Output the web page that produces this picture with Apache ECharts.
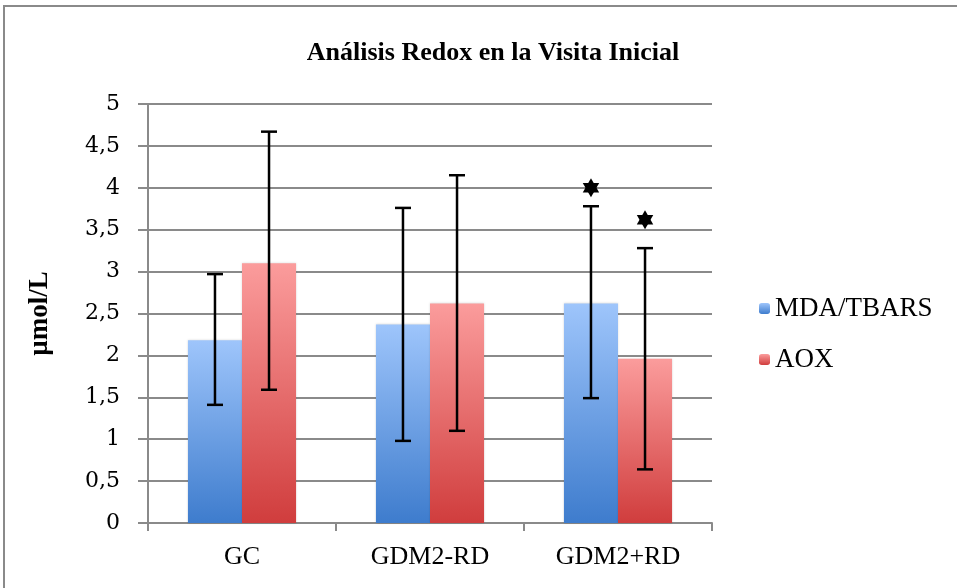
<!DOCTYPE html>
<html>
<head>
<meta charset="utf-8">
<script src="https://cdn.jsdelivr.net/npm/echarts@6/dist/echarts.min.js"></script>
<style>
    html, body { margin: 0; padding: 0; background: #fff; overflow: hidden; }
    #chart {
        position: absolute; left: 3px; top: 5px;
        width: 954px; height: 581px;
        border-top: 2px solid #8a8a8a;
        border-left: 2px solid #8a8a8a;
    }
</style>
</head>
<body>
<div id="chart"></div>
<script>
    // datos
    var categories = ['GC', 'GDM2-RD', 'GDM2+RD'];
    var seriesNames = ['MDA/TBARS', 'AOX'];
    var mdaMean = [2.18, 2.37, 2.62];
    var mdaLow = [1.41, 0.98, 1.49];
    var mdaHigh = [2.97, 3.76, 3.78];
    var aoxMean = [3.10, 2.62, 1.96];
    var aoxLow = [1.59, 1.10, 0.64];
    var aoxHigh = [4.67, 4.15, 3.28];
    // estrellas de significancia
    var mdaStar = [null, null, 4.0];
    var aoxStar = [null, null, 3.62];
    var yTicks = ['0', '0,5', '1', '1,5', '2', '2,5', '3', '3,5', '4', '4,5', '5'];

    var gapPct = 0.425;
    var serif = '"Liberation Serif", "DejaVu Serif", serif';
    var tickFont = '"DejaVu Serif", "Liberation Serif", serif';

    var chart = echarts.init(document.getElementById('chart'));

    function grad(top, bottom) {
        return new echarts.graphic.LinearGradient(0, 0, 0, 1, [
            {offset: 0, color: top},
            {offset: 1, color: bottom}
        ]);
    }

    function hexagram(cx, cy, r) {
        var a = [], b = [];
        for (var i = 0; i < 3; i++) {
            var t1 = -Math.PI / 2 + i * 2 * Math.PI / 3;
            var t2 = Math.PI / 2 + i * 2 * Math.PI / 3;
            a.push([cx + r * Math.cos(t1), cy + r * Math.sin(t1)]);
            b.push([cx + r * Math.cos(t2), cy + r * Math.sin(t2)]);
        }
        return [a, b];
    }

    // barras de error + estrellas, desplazadas según la posición de cada barra
    function errorSeries(low, high, star, side) {
        var rows = low.map(function (v, i) {
            return [i, v, high[i], star[i] == null ? '-' : star[i]];
        });
        return {
            type: 'custom',
            z: 10,
            silent: true,
            data: rows,
            renderItem: function (params, api) {
                var band = api.size([1, 0])[0];
                var barW = band * (1 - gapPct) / 2;
                var off = side * barW / 2;
                var lo = api.coord([api.value(0), api.value(1)]);
                var hi = api.coord([api.value(0), api.value(2)]);
                var x = lo[0] + off;
                var cap = 8;
                var st = {stroke: '#000', lineWidth: 2.5};
                var kids = [
                    {type: 'line', shape: {x1: x, y1: hi[1], x2: x, y2: lo[1]}, style: st},
                    {type: 'line', shape: {x1: x - cap, y1: hi[1], x2: x + cap, y2: hi[1]}, style: st},
                    {type: 'line', shape: {x1: x - cap, y1: lo[1], x2: x + cap, y2: lo[1]}, style: st}
                ];
                var s = api.value(3);
                if (!isNaN(s) && s !== '-') {
                    var p = api.coord([api.value(0), s]);
                    hexagram(x, p[1], 9.5).forEach(function (tri) {
                        kids.push({type: 'polygon', shape: {points: tri}, style: {fill: '#000'}});
                    });
                }
                return {type: 'group', children: kids};
            }
        };
    }

    var option = {
        backgroundColor: '#fff',
        animation: false,
        title: {
            text: 'Análisis Redox en la Visita Inicial',
            left: 483, top: 28, textAlign: 'center',
            textStyle: {fontFamily: serif, fontWeight: 'bold', fontSize: 26, color: '#000'}
        },
        legend: {
            data: seriesNames,
            orient: 'vertical',
            left: 749, top: 283,
            itemWidth: 11, itemHeight: 11, itemGap: 24,
            textStyle: {fontFamily: serif, fontSize: 27, color: '#000'}
        },
        grid: {left: 143, right: 247, top: 97, bottom: 65},
        xAxis: {
            type: 'category',
            data: categories,
            axisLine: {lineStyle: {color: '#8a8a8a', width: 2}},
            axisTick: {show: true, length: 8, lineStyle: {color: '#8a8a8a', width: 2}},
            axisLabel: {fontFamily: serif, fontSize: 26, color: '#000', margin: 21}
        },
        yAxis: {
            type: 'value',
            min: 0, max: 5, interval: 0.5,
            name: 'µmol/L',
            nameLocation: 'middle',
            nameGap: 94,
            nameTextStyle: {fontFamily: serif, fontWeight: 'bold', fontSize: 27, color: '#000'},
            axisLine: {show: true, lineStyle: {color: '#8a8a8a', width: 2}},
            axisTick: {show: true, length: 10, lineStyle: {color: '#8a8a8a', width: 2}},
            splitLine: {lineStyle: {color: '#8a8a8a', width: 2}},
            axisLabel: {
                fontFamily: tickFont, fontSize: 22, color: '#000', margin: 28,
                formatter: function (v) { return yTicks[Math.round(v * 2)]; }
            }
        },
        series: [
            {
                name: seriesNames[0], type: 'bar', data: mdaMean,
                barGap: 0, barCategoryGap: (gapPct * 100) + '%',
                itemStyle: {color: grad('#9ec5fb', '#3e7ccd'), shadowColor: 'rgba(0,0,0,0.15)', shadowBlur: 2}
            },
            {
                name: seriesNames[1], type: 'bar', data: aoxMean,
                barGap: 0, barCategoryGap: (gapPct * 100) + '%',
                itemStyle: {color: grad('#fb9c9c', '#d03d3d'), shadowColor: 'rgba(0,0,0,0.15)', shadowBlur: 2}
            },
            errorSeries(mdaLow, mdaHigh, mdaStar, -1),
            errorSeries(aoxLow, aoxHigh, aoxStar, 1)
        ]
    };
    chart.setOption(option);
</script>
</body>
</html>
